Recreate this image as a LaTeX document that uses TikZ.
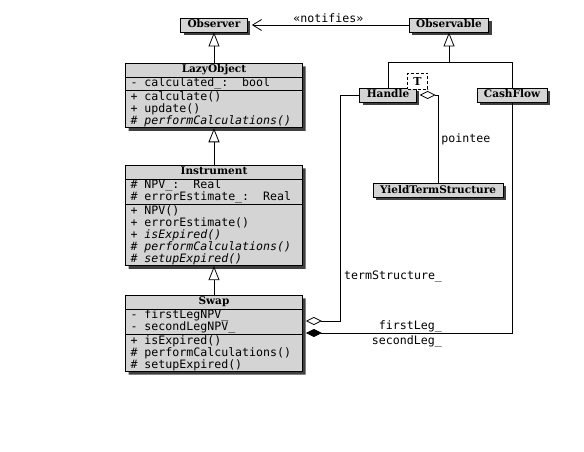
\documentclass[tikz,border=0pt]{standalone}
\usepackage{fontspec}
\setmonofont{DejaVu Sans Mono}
\newfontfamily\classfont{DejaVu Serif}
\usetikzlibrary{arrows.meta}
\usetikzlibrary{shapes.multipart}
\usetikzlibrary{shadows}
\usetikzlibrary{calc}
\usepackage{xcolor}

\definecolor{classgray}{RGB}{212,212,212}
\setlength{\lineskiplimit}{-4pt}
\setlength{\normallineskiplimit}{-4pt}
\newcommand{\classname}[1]{{\centering\classfont\bfseries\fontsize{10.5}{12.5}\selectfont\strut #1\par}}
\newcommand{\ml}[1]{\rule[-3pt]{0pt}{9pt}#1}
\newcommand{\ts}{\phantom{x}}

\begin{document}
\begin{tikzpicture}[x=1pt,y=-1pt,
    umlclass/.style={rectangle split, rectangle split parts=3, draw, line width=0.8pt,
      fill=classgray, drop shadow={shadow xshift=3pt, shadow yshift=-3pt, fill=black!75, opacity=1},
      text width=167pt, align=left, inner xsep=5pt, inner ysep=0.3pt, anchor=north,
      font=\ttfamily\fontsize{11.6}{12}\selectfont},
    simpleclass/.style={draw, line width=0.8pt, fill=classgray,
      drop shadow={shadow xshift=3pt, shadow yshift=-3pt, fill=black!75, opacity=1},
      font=\classfont\bfseries\fontsize{10.5}{12.5}\selectfont,
      inner xsep=7pt, inner ysep=1pt, text height=9pt, text depth=3pt},
    tparam/.style={draw, dash pattern=on 3pt off 2pt, fill=white, line width=0.8pt,
      font=\classfont\bfseries\fontsize{11}{13}\selectfont,
      minimum width=20pt, minimum height=16pt, inner sep=1pt},
    inherit/.style={-{Triangle[open,length=14pt,width=11pt]}, line width=0.8pt},
    notify/.style={-{Straight Barb[length=9pt,width=11pt]}, line width=0.8pt, shorten >=4pt},
    hasa/.style={-{Diamond[open,length=16pt,width=8pt]}, line width=0.8pt, shorten >=3pt},
    owns/.style={-{Diamond[length=16pt,width=8pt]}, line width=0.8pt, shorten >=3pt},
    lbl/.style={font=\ttfamily\fontsize{11.6}{12}\selectfont, inner sep=1pt}]

        \useasboundingbox (0,0) rectangle (584,452);

        % Simple classes
        \node[simpleclass] (Observer) at (214,25) {Observer};
        \node[simpleclass] (Observable) at (449,25) {Observable};
        \node[simpleclass] (Handle) at (388,95) {Handle};
        \node[simpleclass] (CashFlow) at (512,95) {CashFlow};
        \node[simpleclass] (YieldTermStructure) at (438,190) {YieldTermStructure};

        % Template parameter
        \node[tparam] (HandleT) at (417.5,81) {T};

        % Class hierarchy
        \node[umlclass] (LazyObject) at (214,63) {\classname{LazyObject}
          \nodepart{two}\ml{-\ts calculated\_:\ts\ts bool}
          \nodepart{three}\ml{+\ts calculate()}\\\ml{+\ts update()}\\\ml{\textit{\#\ts performCalculations()}}};

        \node[umlclass] (Instrument) at (214,165) {\classname{Instrument}
          \nodepart{two}\ml{\#\ts NPV\_:\ts\ts Real}\\\ml{\#\ts errorEstimate\_:\ts\ts Real}
          \nodepart{three}\ml{+\ts NPV()}\\\ml{+\ts errorEstimate()}\\\ml{\textit{+\ts isExpired()}}\\\ml{\textit{\#\ts performCalculations()}}\\\ml{\textit{\#\ts setupExpired()}}};

        \node[umlclass] (Swap) at (214,295) {\classname{Swap}
          \nodepart{two}\ml{-\ts firstLegNPV\_}\\\ml{-\ts secondLegNPV\_}
          \nodepart{three}\ml{+\ts isExpired()}\\\ml{\#\ts performCalculations()}\\\ml{\#\ts setupExpired()}};

        % Inheritance
        \draw[inherit] (LazyObject.north) -- (Observer.south);
        \draw[inherit] (Instrument.north) -- (LazyObject.south);
        \draw[inherit] (Swap.north) -- (Instrument.south);

        \coordinate (obsjoin) at ($(Observable.south)+(0,30)$);
        \draw[inherit] (obsjoin) -- (Observable.south);
        \draw[line width=0.8pt] (Handle.north) |- (obsjoin) -| (CashFlow.north);

        % Notification
        \draw[notify] (Observable.west) -- (Observer.east)
          node[lbl, midway, above=1pt] (notifylabel) {«notifies»};

        % Aggregations
        \draw[hasa] (YieldTermStructure.north) |- (Handle.east)
          node[lbl, pos=0.25, right=2pt] (pointeelabel) {pointee};

        \coordinate (tsbend) at (340,321);
        \draw[hasa] (Handle.west) -| (tsbend) -- ([yshift=-26pt]Swap.north east);
        \node[lbl, anchor=west] (tslabel) at (343,277) {termStructure\_};

        \draw[owns] (CashFlow.south) |- ([yshift=-38pt]Swap.north east);
        \node[lbl, anchor=east] (firstleglabel) at (443,326) {firstLeg\_};
        \node[lbl, anchor=east] (secondleglabel) at (443,341) {secondLeg\_};

\end{tikzpicture}
\end{document}
